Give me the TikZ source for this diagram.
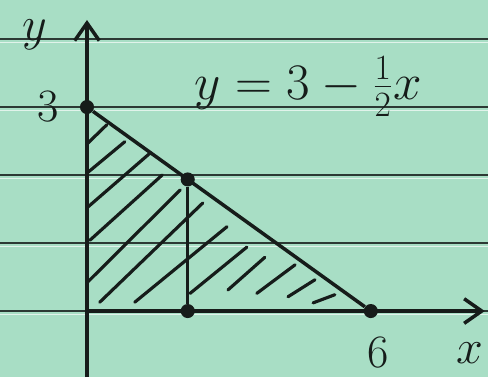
\documentclass[tikz,border=0pt]{standalone}
\usetikzlibrary{arrows.meta,positioning}
\definecolor{paper}{RGB}{168,222,197}
\definecolor{ink}{RGB}{22,28,26}

\begin{document}
\begin{tikzpicture}[x=0.946cm,y=1.36cm]

\tikzset{line/.style={draw=ink,line width=2pt}}
\tikzset{rule/.style={draw=ink!85!paper,line width=1.6pt}}
\tikzset{shine/.style={draw=white!65!paper,line width=1pt}}
\tikzset{axis/.style={line,-{Straight Barb[length=10pt,width=14pt,line width=2pt]}}}
\tikzset{hatch/.style={draw=ink,line width=1.8pt,line cap=round}}
\tikzset{dot/.style={circle,fill=ink,inner sep=0pt,minimum size=8pt}}
\tikzset{textnode/.style={inner sep=0pt,text=ink,font=\fontsize{24}{28}\selectfont}}

% the paper and its ruling
\fill[paper] (-1.839,-0.971) rectangle (8.478,4.574);
\useasboundingbox (-1.839,-0.971) rectangle (8.478,4.574);

\foreach \y in {0,1,2,3,4} {
  \path[shine] (-1.839,\y-0.05) -- (8.478,\y-0.05);
  \path[rule] (-1.839,\y) -- (8.478,\y);
}

% points
\node[dot] (top) at (0,3) {};
\node[dot] (mid) at (2.13,1.935) {};
\node[dot] (foot) at (2.13,0) {};
\node[dot] (end) at (6,0) {};

\coordinate (ybot) at (0,-0.971);
\coordinate (ytop) at (0,4.28);
\coordinate (origin) at (0,0);
\coordinate (xend) at (8.41,0);

% hatching
\foreach \a/\b in {
  {0.02,2.47}/{0.42,2.74},
  {0.02,2.04}/{0.80,2.49},
  {0.02,1.53}/{1.33,2.32},
  {0.06,1.04}/{1.59,2.00},
  {0.02,0.43}/{1.97,1.78},
  {0.27,0.13}/{2.45,1.59},
  {1.01,0.13}/{2.96,1.24},
  {2.18,0.26}/{3.38,0.94},
  {2.98,0.31}/{3.76,0.79},
  {3.59,0.26}/{4.40,0.68},
  {4.25,0.21}/{4.82,0.46},
  {4.78,0.12}/{5.24,0.24}} {
  \path[hatch] (\a) -- (\b);
}

% axes and lines
\path[axis] (ybot) -- (ytop);
\path[axis] (origin) -- (xend);
\path[line] (top) -- (end);
\path[line] (mid) -- (foot);

% labels
\node[textnode, scale=1.1] (ylabel) at (-1.10,4.06) {$y$};
\node[textnode, scale=1.1, left=0.4cm of top] (three) {3};
\node[textnode, scale=1.1, below=0.36cm of end, xshift=4pt] (six) {6};
\node[textnode, scale=1.1] (xlabel) at (8.10,-0.62) {$x$};
\node[textnode, scale=1.17] (eqn) at (4.68,3.30) {$y=3-\frac{1}{2}x$};

\end{tikzpicture}
\end{document}
